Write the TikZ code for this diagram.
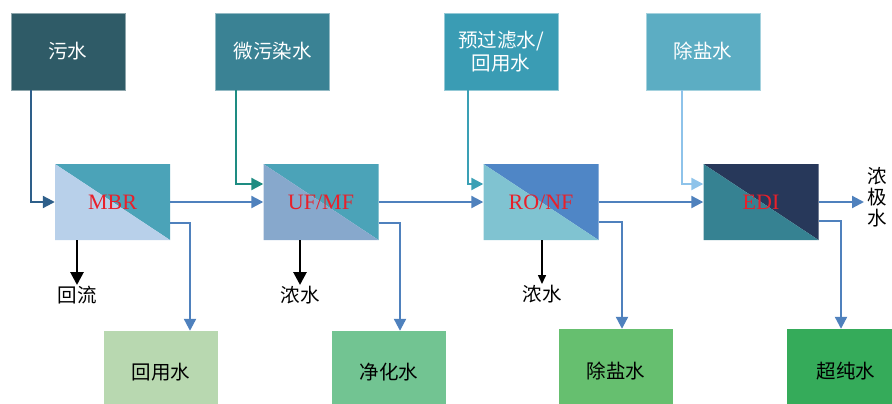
\documentclass[tikz,border=0pt]{standalone}
\usepackage{fontspec}
\setmainfont{Liberation Serif}
\newfontfamily\cjk{Noto Sans CJK SC}
\usetikzlibrary{arrows.meta}
\definecolor{cWu}{HTML}{2F5B67}
\definecolor{cWei}{HTML}{3A8294}
\definecolor{cYu}{HTML}{3A9CB4}
\definecolor{cChuT}{HTML}{5CADC3}
\definecolor{cTeal}{HTML}{4BA3B8}
\definecolor{cMbrL}{HTML}{B8D0EA}
\definecolor{cUfL}{HTML}{87A8CC}
\definecolor{cRoU}{HTML}{4F86C6}
\definecolor{cRoL}{HTML}{80C3D1}
\definecolor{cEdiU}{HTML}{27385A}
\definecolor{cEdiL}{HTML}{368292}
\definecolor{cHy}{HTML}{B8D8B0}
\definecolor{cJh}{HTML}{72C492}
\definecolor{cCy}{HTML}{66BF6F}
\definecolor{cCc}{HTML}{35AB5A}
\definecolor{cLine}{HTML}{4F81BD}
\definecolor{cL1}{HTML}{2E5F8A}
\definecolor{cL2}{HTML}{1E8C82}
\definecolor{cL3}{HTML}{3AA0B5}
\definecolor{cL4}{HTML}{8EC3EA}
\definecolor{cRed}{HTML}{E8202A}
\tikzset{
  topbox/.style={draw=#1!55!white, line width=0.6pt, fill=#1, minimum width=114pt, minimum height=77pt,
    text=white, font=\cjk\fontsize{19.5}{23}\selectfont, align=center, inner sep=0pt},
  proc/.style 2 args={minimum width=115pt, minimum height=76pt, inner sep=0pt,
    text=cRed, font=\fontsize{22}{24}\selectfont,
    path picture={
      \fill[#1] (path picture bounding box.north west) -- (path picture bounding box.north east) -- (path picture bounding box.south east) -- cycle;
      \fill[#2] (path picture bounding box.north west) -- (path picture bounding box.south west) -- (path picture bounding box.south east) -- cycle;}},
  botbox/.style={fill=#1, minimum width=114pt, inner sep=0pt, font=\cjk\fontsize{19.5}{23}\selectfont},
  lbl/.style={font=\cjk\fontsize{19.5}{20}\selectfont, inner sep=1pt, align=center},
  flow/.style={draw=#1, line width=2.2pt, -{Triangle[length=12pt,width=12pt]}},
  blk/.style={draw=black, line width=2.8pt, -{Triangle[length=13pt,width=13pt]}},
}
\begin{document}
\begin{tikzpicture}[x=1pt,y=-1pt]
\useasboundingbox (0,0) rectangle (892,404);
\begin{scope}
\clip (0,0) rectangle (892,404);
% top sources
\node[topbox=cWu] (wu) at (68,51.5) {污水};
\node[topbox=cWei] (wei) at (272.5,51.5) {微污染水};
\node[topbox=cYu] (yu) at (501,51.5) {预过滤水/\\回用水};
\node[topbox=cChuT] (chut) at (703,51.5) {除盐水};
% processes
\node[proc={cTeal}{cMbrL}] (mbr) at (112.5,202) {MBR};
\node[proc={cTeal}{cUfL}] (uf) at (321,202) {UF/MF};
\node[proc={cRoU}{cRoL}] (ro) at (541,202) {RO/NF};
\node[proc={cEdiU}{cEdiL}] (edi) at (761,202) {EDI};
% products
\node[botbox=cHy, minimum height=82pt] (hy) at (161,372) {回用水};
\node[botbox=cJh, minimum height=82pt] (jh) at (389,372) {净化水};
\node[botbox=cCy, minimum height=84pt] (cy) at (616,371) {除盐水};
\node[botbox=cCc, minimum height=84pt, minimum width=118pt] (cc) at (846,371) {超纯水};
% labels
\node[lbl, anchor=north] (hl) at (77,285) {回流};
\node[lbl, anchor=north] (ns1) at (300,285) {浓水};
\node[lbl, anchor=north] (ns2) at (542,284) {浓水};
\node[lbl, anchor=west, inner sep=0pt, font=\cjk\fontsize{19.5}{21}\selectfont] (nj) at (867,197) {浓\\极\\水};
\end{scope}
% feed lines
\draw[flow=cL1] ([xshift=20pt]wu.south west) |- (mbr.west);
\draw[flow=cL2] ([xshift=21pt]wei.south west) |- ([yshift=18pt]uf.west);
\draw[flow=cL3] ([xshift=24pt]yu.south west) |- ([yshift=18pt]ro.west);
\draw[flow=cL4] ([xshift=36pt]chut.south west) |- ([yshift=18pt]edi.west);
% main line
\draw[flow=cLine] (mbr.east) -- (uf.west);
\draw[flow=cLine] (uf.east) -- (ro.west);
\draw[flow=cLine] (ro.east) -- (edi.west);
\draw[flow=cLine] (edi.east) -- ([xshift=-3pt]edi.east -| nj.west);
% products
\draw[flow=cLine] ([yshift=-21pt]mbr.east) -| ([xshift=29pt]hy.north);
\draw[flow=cLine] ([yshift=-21pt]uf.east) -| ([xshift=11pt]jh.north);
\draw[flow=cLine] ([yshift=-20pt]ro.east) -| ([xshift=6pt]cy.north);
\draw[flow=cLine] ([yshift=-19pt]edi.east) -| ([xshift=-5pt]cc.north);
% concentrate
\draw[blk] ([xshift=-35.5pt]mbr.south) -- (hl.north);
\draw[blk] ([xshift=-21pt]uf.south) -- (ns1.north);
\draw[draw=black, line width=1.5pt, -{Triangle[length=9pt,width=8pt]}] ([xshift=1pt]ro.south) -- (ns2.north);
\end{tikzpicture}
\end{document}
